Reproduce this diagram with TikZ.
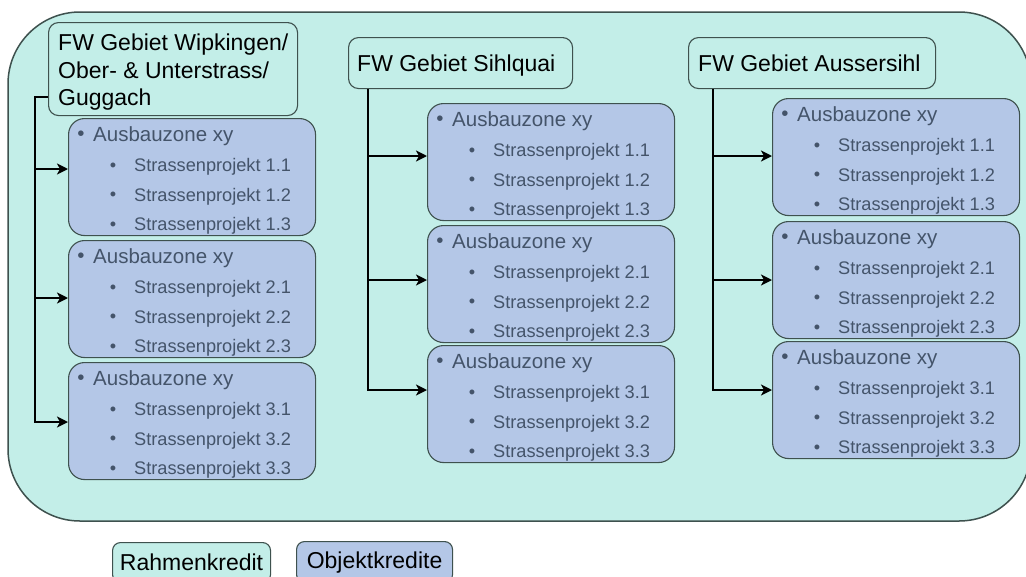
\documentclass[tikz,border=0pt]{standalone}
\usepackage{fontspec}
\setmainfont{Liberation Sans}
\usetikzlibrary{arrows.meta}

\definecolor{panelfill}{HTML}{C3EEE8}
\definecolor{zonefill}{HTML}{B4C7E7}
\definecolor{zonetext}{HTML}{44546A}
\definecolor{edgegray}{HTML}{3E514E}

\tikzset{
  panel/.style={draw=edgegray, line width=1.5pt, fill=panelfill, rounded corners=72pt},
  areabox/.style={draw=edgegray, line width=1.1pt, fill=panelfill, rounded corners=10pt,
    anchor=north west, inner sep=0pt},
  areatext/.style={anchor=west, inner sep=0pt, text=black, align=left,
    font=\fontsize{23}{27.5}\selectfont},
  legendbox/.style={draw=edgegray, line width=1.1pt, rounded corners=8pt,
    anchor=north west, inner sep=0pt, text=black,
    font=\fontsize{23}{27}\selectfont},
  zonebox/.style={draw=edgegray, line width=1.1pt, fill=zonefill, rounded corners=16pt,
    anchor=north west, minimum width=247pt, minimum height=117pt, inner sep=0pt},
  zonebullet/.style={anchor=center, inner sep=0pt, text=zonetext},
  zonehead/.style={anchor=west, inner sep=0pt, text=zonetext,
    font=\fontsize{20.5}{24}\selectfont},
  zoneitem/.style={anchor=west, inner sep=0pt, text=zonetext,
    font=\fontsize{18.2}{21}\selectfont},
  feed/.style={line width=2.2pt, draw=black},
  feedarrow/.style={feed, -{Stealth[length=11pt,width=11pt,inset=3pt]}},
}

% One "Ausbauzone" card: #1 name, #2 left x, #3 top y, #4 project group
\newcommand\zonecard[4]{%
  \node[zonebox] (#1) at (#2,#3) {};
  \node[zonebullet, font=\fontsize{20.5}{24}\selectfont] (#1-hb) at ([shift={(13,18)}]#1.north west) {•};
  \node[zonehead] (#1-h) at ([shift={(25,18)}]#1.north west) {Ausbauzone xy};
  \node[zonebullet, font=\fontsize{18.2}{21}\selectfont] (#1-b1) at ([shift={(45,49)}]#1.north west) {•};
  \node[zoneitem] (#1-s1) at ([shift={(66,49)}]#1.north west) {Strassenprojekt #4.1};
  \node[zonebullet, font=\fontsize{18.2}{21}\selectfont] (#1-b2) at ([shift={(45,78.5)}]#1.north west) {•};
  \node[zoneitem] (#1-s2) at ([shift={(66,78.5)}]#1.north west) {Strassenprojekt #4.2};
  \node[zonebullet, font=\fontsize{18.2}{21}\selectfont] (#1-b3) at ([shift={(45,108)}]#1.north west) {•};
  \node[zoneitem] (#1-s3) at ([shift={(66,108)}]#1.north west) {Strassenprojekt #4.3};
}

\begin{document}
\begin{tikzpicture}[x=1pt, y=-1pt]
  \useasboundingbox (0,0) rectangle (1026,576);
  \fill[white] (0,0) rectangle (1026,576);

  % outer frame for the Rahmenkredit
  \draw[panel] (8,12) rectangle (1031,521);

  % district headers
  \node[areabox, minimum width=249pt, minimum height=93pt] (h1) at (48,22) {};
  \node[areatext] (h1-t) at ([shift={(10,3)}]h1.west)
    {FW Gebiet Wipkingen/\\Ober- \& Unterstrass/\\Guggach};
  \node[areabox, minimum width=224pt, minimum height=51pt] (h2) at (348,37) {};
  \node[areatext, anchor=base west] (h2-t) at ([shift={(9,34)}]h2.north west) {FW Gebiet Sihlquai};
  \node[areabox, minimum width=247pt, minimum height=51pt] (h3) at (688,37) {};
  \node[areatext, anchor=base west] (h3-t) at ([shift={(10,34)}]h3.north west) {FW Gebiet Aussersihl};

  % Ausbauzonen
  \zonecard{z11}{68}{118}{1}
  \zonecard{z12}{68}{240}{2}
  \zonecard{z13}{68}{362}{3}
  \zonecard{z21}{427}{103}{1}
  \zonecard{z22}{427}{225}{2}
  \zonecard{z23}{427}{345}{3}
  \zonecard{z31}{772}{98}{1}
  \zonecard{z32}{772}{221}{2}
  \zonecard{z33}{772}{341}{3}

  % trunk positions and arrow levels
  \coordinate (t1) at (35,97);
  \coordinate (t2) at (368,0);
  \coordinate (t3) at (713,0);
  \coordinate (y11) at (0,169);
  \coordinate (y12) at (0,298);
  \coordinate (y13) at (0,422);
  \coordinate (y21) at (0,156);
  \coordinate (y22) at (0,280);
  \coordinate (y23) at (0,390);
  \coordinate (y31) at (0,156);
  \coordinate (y32) at (0,280);
  \coordinate (y33) at (0,390);

  % connectors, first district
  \draw[feedarrow] (h1.west |- t1) -- (t1) |- (z13.west |- y13);
  \draw[feedarrow] (t1 |- y11) -- (z11.west |- y11);
  \draw[feedarrow] (t1 |- y12) -- (z12.west |- y12);

  % connectors, second district
  \draw[feedarrow] (h2.south -| t2) |- (z23.west |- y23);
  \draw[feedarrow] (t2 |- y21) -- (z21.west |- y21);
  \draw[feedarrow] (t2 |- y22) -- (z22.west |- y22);

  % connectors, third district
  \draw[feedarrow] (h3.south -| t3) |- (z33.west |- y33);
  \draw[feedarrow] (t3 |- y31) -- (z31.west |- y31);
  \draw[feedarrow] (t3 |- y32) -- (z32.west |- y32);

  % legend
  \node[legendbox, fill=panelfill, minimum width=158pt, minimum height=40pt] (legA) at (112,542) {Rahmenkredit};
  \node[legendbox, fill=zonefill, minimum width=156pt, minimum height=41pt] (legB) at (296,541) {Objektkredite};
\end{tikzpicture}
\end{document}
